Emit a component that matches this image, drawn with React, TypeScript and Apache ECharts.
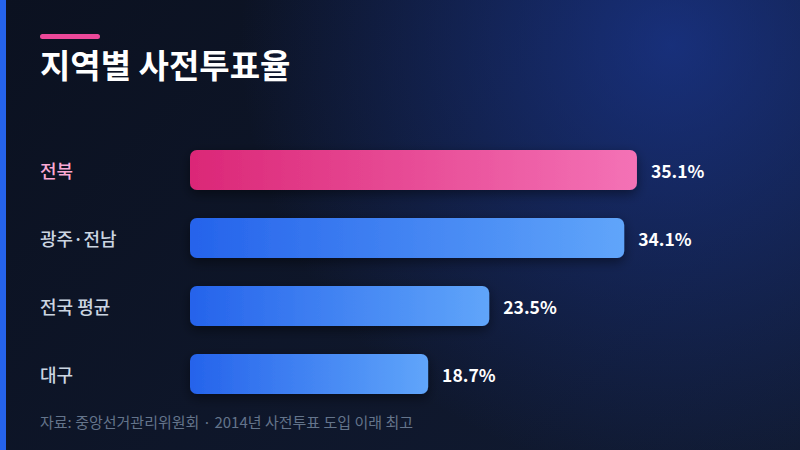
import { useEffect, useRef } from 'react';
import * as echarts from 'echarts';

const regions = ['전북', '광주·전남', '전국 평균', '대구'];
const turnout = [35.1, 34.1, 23.5, 18.7];
const highlightRegion = '전북';

const titleText = '지역별 사전투표율';
const sourceText = '자료: 중앙선거관리위원회 · 2014년 사전투표 도입 이래 최고';

const FONT = "'Noto Sans CJK KR', 'Noto Sans', sans-serif";

const blueGradient = () =>
  new echarts.graphic.LinearGradient(0, 0, 1, 0, [
    { offset: 0, color: '#2563eb' },
    { offset: 1, color: '#60a5fa' },
  ]);

const pinkGradient = () =>
  new echarts.graphic.LinearGradient(0, 0, 1, 0, [
    { offset: 0, color: '#db2777' },
    { offset: 1, color: '#f472b6' },
  ]);

export default function App() {
  const chartRef = useRef<HTMLDivElement>(null);

  useEffect(() => {
    if (!chartRef.current) return;
    const chart = echarts.init(chartRef.current, null, { renderer: 'svg' });

    const option: echarts.EChartsOption = {
      animation: false,
      backgroundColor: 'transparent',
      grid: {
        left: 190,
        right: 37,
        top: 136,
        bottom: 42,
        containLabel: false,
      },
      xAxis: {
        type: 'value',
        min: 0,
        max: 45,
        show: false,
      },
      yAxis: {
        type: 'category',
        inverse: true,
        data: regions,
        axisLine: { show: false },
        axisTick: { show: false },
        axisLabel: {
          align: 'left',
          margin: 150,
          fontFamily: FONT,
          fontSize: 18,
          fontWeight: 500,
          color: (value?: string | number) => (value === highlightRegion ? '#f9a8d4' : '#cbd5e1'),
        },
      },
      series: [
        {
          type: 'bar',
          barWidth: 40,
          data: turnout.map((v, i) => ({
            value: v,
            itemStyle: {
              color: regions[i] === highlightRegion ? pinkGradient() : blueGradient(),
            },
          })),
          itemStyle: {
            borderRadius: 7,
            shadowBlur: 12,
            shadowColor: 'rgba(0, 0, 0, 0.45)',
            shadowOffsetY: 4,
          },
          label: {
            show: true,
            position: 'right',
            distance: 14,
            formatter: (p: { value: number }) => `${p.value.toFixed(1)}%`,
            color: '#ffffff',
            fontFamily: FONT,
            fontSize: 17.5,
            fontWeight: 'bold',
          },
        },
      ],
      graphic: [
        {
          type: 'rect',
          left: 0,
          top: 0,
          shape: { width: 6, height: 450 },
          style: { fill: '#2563eb' },
        },
        {
          type: 'rect',
          left: 40,
          top: 34,
          shape: { width: 60, height: 5, r: 2.5 },
          style: { fill: '#ec4899' },
        },
        {
          type: 'text',
          left: 40,
          top: 47,
          style: {
            text: titleText,
            fill: '#ffffff',
            fontFamily: FONT,
            fontSize: 33,
            fontWeight: 'bold',
          },
        },
        {
          type: 'text',
          left: 40,
          top: 414,
          style: {
            text: sourceText,
            fill: '#64748b',
            fontFamily: FONT,
            fontSize: 15,
          },
        },
      ],
    };

    chart.setOption(option);
    return () => {
      chart.dispose();
    };
  }, []);

  return (
    <div
      style={{
        position: 'fixed',
        left: 0,
        top: 0,
        width: 800,
        height: 450,
        background:
          'radial-gradient(circle at 84% 10%, rgba(30, 64, 175, 0.6) 0%, rgba(30, 64, 175, 0) 55%), linear-gradient(135deg, #0b1120 0%, #111b33 100%)',
      }}
    >
      <div ref={chartRef} style={{ width: 800, height: 450 }} />
    </div>
  );
}
